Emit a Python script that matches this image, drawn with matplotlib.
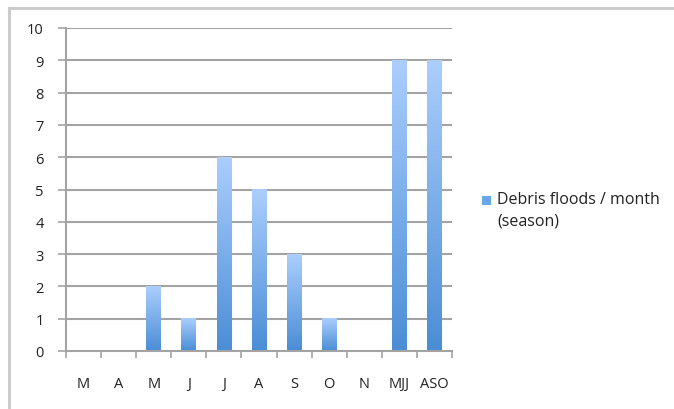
import numpy as np
import matplotlib
matplotlib.use("Agg")
import matplotlib.pyplot as plt
from matplotlib.colors import LinearSegmentedColormap
from matplotlib.patches import Rectangle
from matplotlib.lines import Line2D

# debris floods counted per month, plus the two seasonal totals
categories = ["M", "A", "M", "J", "J", "A", "S", "O", "N", "MJJ", "ASO"]
debris_floods = [0, 0, 2, 1, 6, 5, 3, 1, 0, 9, 9]
y_ticks = list(range(0, 11))
series_label = "Debris floods / month\n(season)"

plt.rcParams['font.family'] = ['Open Sans', 'DejaVu Sans']

fig = plt.figure(figsize=(6.74, 4.10), dpi=100)
ax = fig.add_axes([66 / 674, 58 / 410, 386 / 674, 323 / 410])

# light-to-dark blue fill, dark at the base of each bar
bar_cmap = LinearSegmentedColormap.from_list("bar_blue", ["#4a8dd6", "#abcefd"])
grad = np.linspace(0, 1, 256).reshape(-1, 1)

n = len(categories)
x = np.arange(n)
bar_w = 0.42

grid_col = "#a3a3a3"
for t in y_ticks[1:]:
    ax.axhline(t, color=grid_col, lw=1.5, zorder=1)

for xi, v in zip(x, debris_floods):
    if v <= 0:
        continue
    ax.imshow(grad, cmap=bar_cmap, origin="lower", aspect="auto",
              extent=(xi - bar_w / 2, xi + bar_w / 2, 0, v), zorder=2,
              interpolation="bilinear")

ax.set_xlim(-0.5, n - 0.5)
ax.set_ylim(0, 10)

for s in ("top", "right"):
    ax.spines[s].set_visible(False)
for s in ("left", "bottom"):
    ax.spines[s].set_color(grid_col)
    ax.spines[s].set_linewidth(1.5)

fs = 10.5
ax.set_yticks(y_ticks)
ax.set_yticklabels([str(t) for t in y_ticks], fontsize=fs, color="#222222")
ax.tick_params(axis="y", length=6, width=1.2, color=grid_col, pad=10)

# category labels sit between boundary tick marks
ax.set_xticks(np.arange(-0.5, n, 1.0))
ax.set_xticklabels([])
ax.tick_params(axis="x", length=5, width=1.2, color=grid_col, direction="out")
ax.set_xticks(x, minor=True)
ax.set_xticklabels(categories, minor=True, fontsize=fs, color="#222222")
ax.tick_params(axis="x", which="minor", length=0, pad=18)

# legend entry
fig.patches.append(Rectangle((482 / 674, 1 - 206 / 410), 9 / 674, 9 / 410,
                             transform=fig.transFigure, facecolor="#6aa6ea",
                             edgecolor="none"))
fig.text(497 / 674, 1 - 192 / 410, series_label, fontsize=11.5, color="#222222",
         va="top", ha="left", linespacing=1.45)

# outer chart border (left and top edges)
fig.lines.append(Line2D([9 / 674, 9 / 674], [0, 1 - 9 / 410],
                        transform=fig.transFigure, color="#cccccc", lw=2.2))
fig.lines.append(Line2D([9 / 674, 1], [1 - 9 / 410, 1 - 9 / 410],
                        transform=fig.transFigure, color="#cccccc", lw=2.2))

fig.savefig("out.png", dpi=100)
